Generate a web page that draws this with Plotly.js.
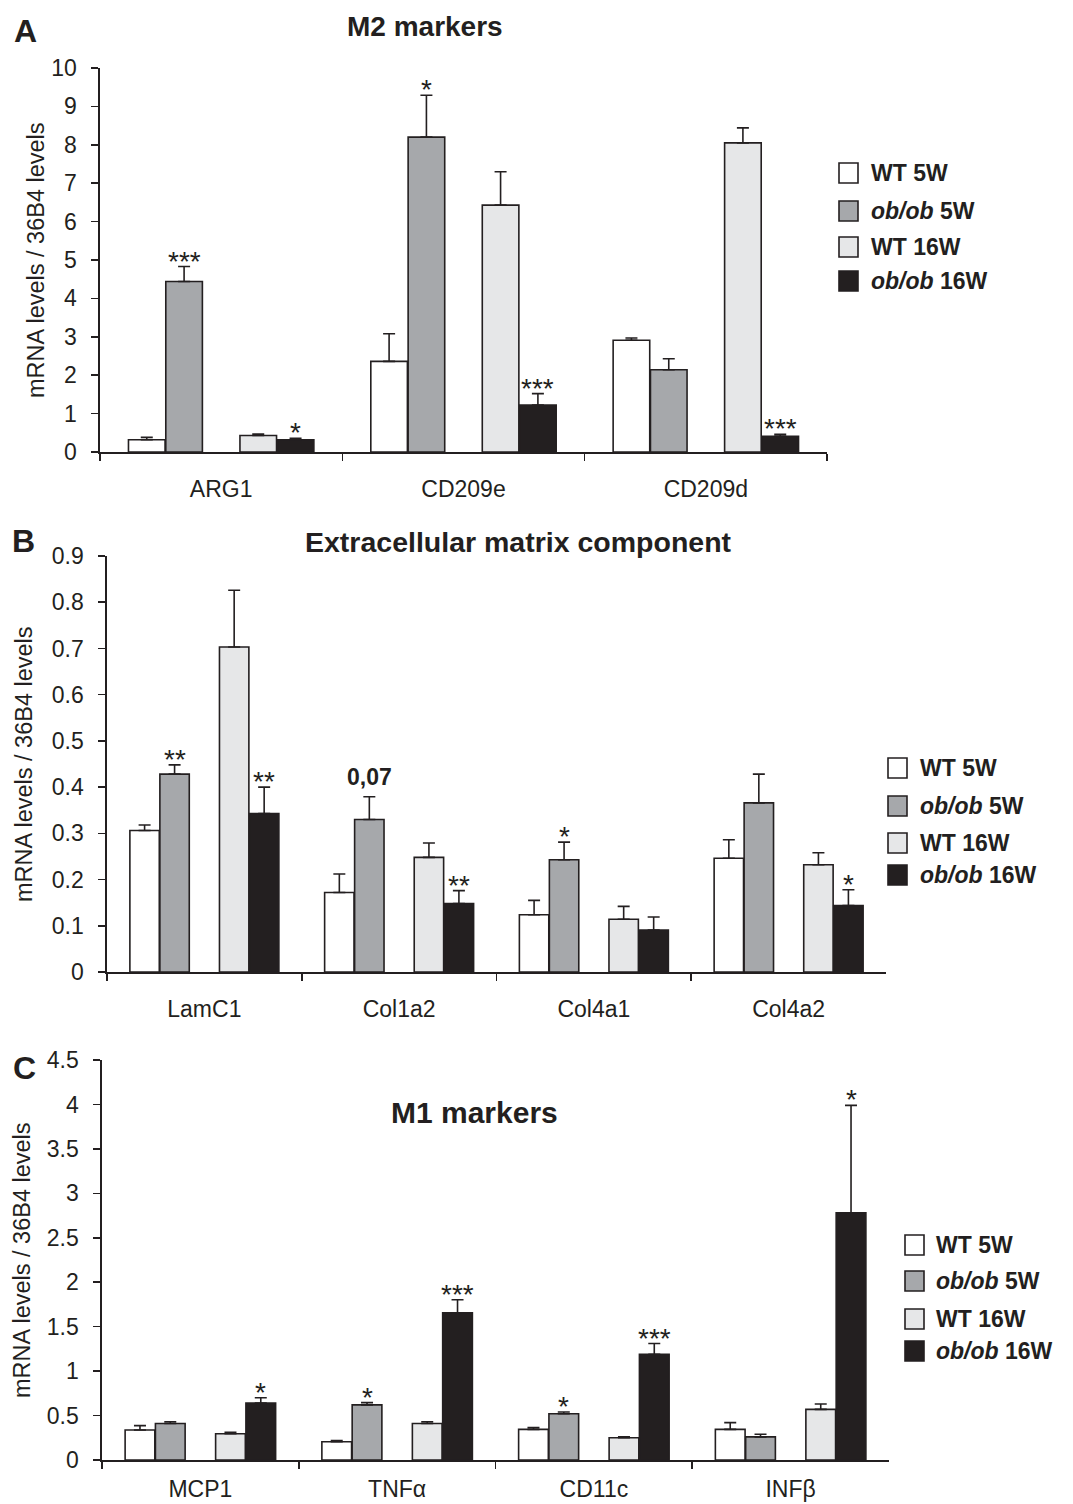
<!DOCTYPE html>
<html><head><meta charset="utf-8">
<script src="https://cdn.plot.ly/plotly-3.0.1.min.js"></script>
<style>html,body{margin:0;padding:0;background:#fff}</style>
</head><body><div id="chart" style="width:1073px;height:1504px"></div>
<script>
// ---------- DATA ----------
const seriesNames = ["WT 5W", "ob/ob 5W", "WT 16W", "ob/ob 16W"];
const legendLabels = ["WT 5W", "<i>ob/ob</i> 5W", "WT 16W", "<i>ob/ob</i> 16W"];

// Panel A – M2 markers
const catsA = ["ARG1", "CD209e", "CD209d"];
const wt5A = [0.32, 2.36, 2.91];
const wt5A_err = [0.06, 0.72, 0.06];
const ob5A = [4.44, 8.20, 2.14];
const ob5A_err = [0.39, 1.09, 0.29];
const wt16A = [0.43, 6.43, 8.05];
const wt16A_err = [0.04, 0.87, 0.39];
const ob16A = [0.32, 1.22, 0.41];
const ob16A_err = [0.04, 0.30, 0.05];
const sigA_ob5 = ["***", "*", ""];
const sigA_ob16 = ["*", "***", "***"];

// Panel B – Extracellular matrix component
const catsB = ["LamC1", "Col1a2", "Col4a1", "Col4a2"];
const wt5B = [0.306, 0.172, 0.124, 0.246];
const wt5B_err = [0.012, 0.040, 0.031, 0.040];
const ob5B = [0.428, 0.330, 0.243, 0.366];
const ob5B_err = [0.020, 0.049, 0.038, 0.062];
const wt16B = [0.703, 0.248, 0.114, 0.232];
const wt16B_err = [0.123, 0.031, 0.028, 0.026];
const ob16B = [0.343, 0.148, 0.091, 0.144];
const ob16B_err = [0.057, 0.028, 0.028, 0.034];
const sigB_ob5 = ["**", "0,07", "*", ""];
const sigB_ob16 = ["**", "**", "", "*"];

// Panel C – M1 markers
const catsC = ["MCP1", "TNFα", "CD11c", "INFβ"];
const wt5C = [0.337, 0.206, 0.345, 0.345];
const wt5C_err = [0.05, 0.012, 0.02, 0.075];
const ob5C = [0.41, 0.62, 0.52, 0.26];
const ob5C_err = [0.02, 0.025, 0.02, 0.03];
const wt16C = [0.296, 0.41, 0.25, 0.57];
const wt16C_err = [0.015, 0.02, 0.01, 0.06];
const ob16C = [0.64, 1.657, 1.19, 2.78];
const ob16C_err = [0.06, 0.145, 0.12, 1.21];
const sigC_ob5 = ["", "*", "*", ""];
const sigC_ob16 = ["*", "***", "***", "*"];

// ---------- STYLE ----------
const W = 1073, H = 1504;
const FONT = "Liberation Sans, Arial, Helvetica, sans-serif";
const INK = "#231f20";
const fills = ["#ffffff", "#a6a8ab", "#e6e7e8", "#231f20"];
const centers = [-0.307, -0.153, 0.153, 0.307];
const bw = 0.151;

const px = v => v / W;
const py = v => 1 - v / H;

const panels = [
  {id: "", cats: catsA, vals: [wt5A, ob5A, wt16A, ob16A], errs: [wt5A_err, ob5A_err, wt16A_err, ob16A_err],
   sig5: sigA_ob5, sig16: sigA_ob16, xpx: [100, 827], ypx: [68, 452], range: [0, 10], dtick: 1, xstand: 16,
   title: "M2 markers", titleSize: 28, titlePos: [425, 27], letter: "A", letterPos: [25, 31], ytitleX: 36,
   legX: 839, legTextX: 869, legY: [173, 211, 247, 281]},
  {id: "2", cats: catsB, vals: [wt5B, ob5B, wt16B, ob16B], errs: [wt5B_err, ob5B_err, wt16B_err, ob16B_err],
   sig5: sigB_ob5, sig16: sigB_ob16, xpx: [107, 886], ypx: [556, 972], range: [0, 0.9], dtick: 0.1, xstand: 16,
   title: "Extracellular matrix component", titleSize: 28.5, titlePos: [518, 542], letter: "B", letterPos: [23, 541], ytitleX: 24,
   legX: 888, legTextX: 918, legY: [768, 806, 843, 875]},
  {id: "3", cats: catsC, vals: [wt5C, ob5C, wt16C, ob16C], errs: [wt5C_err, ob5C_err, wt16C_err, ob16C_err],
   sig5: sigC_ob5, sig16: sigC_ob16, xpx: [102, 889], ypx: [1060, 1460], range: [0, 4.5], dtick: 0.5, xstand: 8,
   title: "M1 markers", titleSize: 30, titlePos: [474, 1112], letter: "C", letterPos: [24, 1068], ytitleX: 22,
   legX: 905, legTextX: 934, legY: [1245, 1281, 1319, 1351]}
];

const traces = [];
const annotations = [];
const shapes = [];
const layout = {
  width: W, height: H,
  margin: {l: 0, r: 0, t: 0, b: 0},
  paper_bgcolor: "#fff", plot_bgcolor: "#fff",
  barmode: "overlay", showlegend: false,
  font: {family: FONT, color: INK, size: 22},
  annotations: annotations, shapes: shapes
};

panels.forEach(p => {
  const xa = "x" + p.id, ya = "y" + p.id;
  for (let s = 0; s < 4; s++) {
    traces.push({
      type: "bar", name: seriesNames[s], x: p.cats, y: p.vals[s],
      xaxis: xa, yaxis: ya,
      offset: centers[s] - bw / 2, width: bw,
      marker: {color: fills[s], line: {color: INK, width: 1.6}},
      error_y: {type: "data", symmetric: false, array: p.errs[s], arrayminus: p.vals[s].map(() => 0),
                color: INK, thickness: 1.6, width: 6},
      hoverinfo: "x+y+name"
    });
  }
  const axKeyX = "xaxis" + p.id, axKeyY = "yaxis" + p.id;
  layout[axKeyX] = {
    domain: [px(p.xpx[0]), px(p.xpx[1])], anchor: ya,
    type: "category", range: [-0.5, p.cats.length - 0.5],
    showline: true, linecolor: INK, linewidth: 1.6,
    ticks: "outside", tickson: "boundaries", ticklen: 7, tickwidth: 1.6, tickcolor: INK,
    showgrid: false, zeroline: false, fixedrange: true,
    tickfont: {family: FONT, size: 23, color: INK}, ticklabelstandoff: p.xstand
  };
  layout[axKeyY] = {
    domain: [py(p.ypx[1]), py(p.ypx[0])], anchor: xa,
    range: p.range, dtick: p.dtick, tick0: 0,
    showline: true, linecolor: INK, linewidth: 1.6,
    ticks: "outside", ticklen: 7, tickwidth: 1.6, tickcolor: INK,
    showgrid: false, zeroline: false, fixedrange: true,
    tickfont: {family: FONT, size: 23, color: INK}, ticklabelstandoff: 10
  };
  // y axis title
  annotations.push({xref: "paper", yref: "paper", x: px(p.ytitleX), y: py((p.ypx[0] + p.ypx[1]) / 2),
    text: "mRNA levels / 36B4 levels", textangle: -90, showarrow: false,
    xanchor: "center", yanchor: "middle", font: {family: FONT, size: 23.5, color: INK}});
  // panel title and letter
  annotations.push({xref: "paper", yref: "paper", x: px(p.titlePos[0]), y: py(p.titlePos[1]),
    text: "<b>" + p.title + "</b>", showarrow: false, xanchor: "center", yanchor: "middle",
    font: {family: FONT, size: p.titleSize, color: INK}});
  annotations.push({xref: "paper", yref: "paper", x: px(p.letterPos[0]), y: py(p.letterPos[1]),
    text: "<b>" + p.letter + "</b>", showarrow: false, xanchor: "center", yanchor: "middle",
    font: {family: FONT, size: 32, color: INK}});
  // significance marks
  [[1, p.sig5], [3, p.sig16]].forEach(([s, sig]) => {
    sig.forEach((t, i) => {
      if (!t) return;
      const isNum = t.indexOf(",") >= 0;
      annotations.push({xref: xa, yref: ya, x: i + centers[s], y: p.vals[s][i] + p.errs[s][i],
        text: isNum ? "<b>" + t + "</b>" : t, showarrow: false, xanchor: "center", yanchor: "bottom",
        yshift: isNum ? 5 : -12,
        font: {family: FONT, size: isNum ? 23 : 28, color: INK}});
    });
  });
  // legend
  for (let s = 0; s < 4; s++) {
    const cy = p.legY[s];
    shapes.push({type: "rect", xref: "paper", yref: "paper",
      x0: px(p.legX), x1: px(p.legX + 19), y0: py(cy + 10), y1: py(cy - 10),
      fillcolor: fills[s], line: {color: INK, width: 1.6}});
    annotations.push({xref: "paper", yref: "paper", x: px(p.legTextX), y: py(cy),
      text: "<b>" + legendLabels[s] + "</b>", showarrow: false, xanchor: "left", yanchor: "middle",
      font: {family: FONT, size: 23, color: INK}});
  }
});

Plotly.newPlot("chart", traces, layout, {displayModeBar: false, staticPlot: true});
</script>
</body></html>
